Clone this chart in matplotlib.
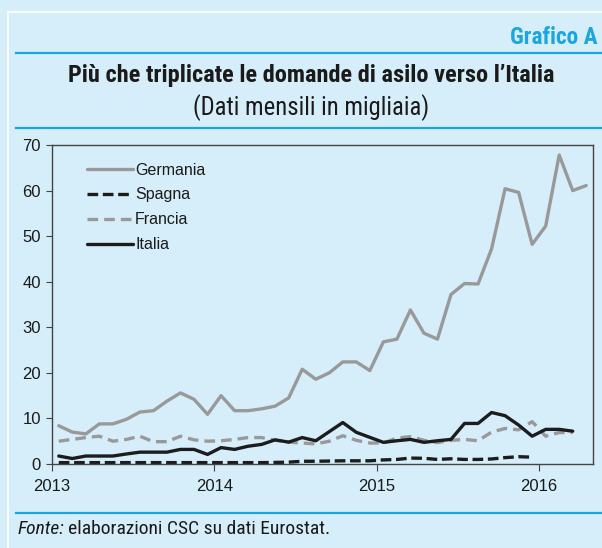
import numpy as np
import matplotlib
matplotlib.use("Agg")
import matplotlib.pyplot as plt
from matplotlib import font_manager
from matplotlib.lines import Line2D

# monthly data, Jan 2013 onwards (thousands)
germania = [8.4, 7.0, 6.6, 8.8, 8.8, 9.8, 11.4, 11.7, 13.8, 15.6,
            14.2, 10.9, 15.0, 11.7, 11.7, 12.1, 12.7, 14.5, 20.8, 18.6,
            20.0, 22.4, 22.4, 20.5, 26.8, 27.4, 33.8, 28.7, 27.4, 37.2,
            39.6, 39.5, 47.2, 60.4, 59.6, 48.2, 52.2, 67.8, 60.0, 61.1]
spagna = [0.3, 0.3, 0.3, 0.3, 0.3, 0.3, 0.3, 0.3, 0.3, 0.3,
          0.3, 0.3, 0.3, 0.3, 0.3, 0.3, 0.35, 0.4, 0.6, 0.6,
          0.65, 0.7, 0.7, 0.7, 0.9, 1.0, 1.3, 1.25, 1.0, 1.15,
          1.0, 1.0, 1.1, 1.4, 1.6, 1.5]
francia = [5.0, 5.4, 5.8, 6.1, 5.0, 5.4, 6.1, 4.9, 4.9, 6.1,
           5.3, 5.0, 5.1, 5.4, 5.8, 5.8, 5.2, 4.8, 4.6, 4.4,
           5.0, 6.2, 5.2, 4.6, 4.6, 5.7, 6.0, 5.2, 4.7, 5.2,
           5.4, 5.1, 7.0, 7.8, 7.5, 9.3, 6.1, 6.9, 6.9]
italia = [1.75, 1.2, 1.75, 1.75, 1.75, 2.2, 2.6, 2.6, 2.6, 3.2,
          3.2, 2.1, 3.6, 3.2, 3.9, 4.3, 5.3, 4.8, 5.8, 5.1,
          7.1, 9.1, 6.95, 5.85, 4.75, 5.1, 5.4, 4.75, 5.1, 5.4,
          8.9, 8.9, 11.3, 10.6, 8.55, 6.1, 7.6, 7.6, 7.2]
year_ticks = [2013, 2014, 2015, 2016]


def months(n):
    # plot each month in the middle of its slot
    return 2013 + (np.arange(n) + 0.5) / 12.0


def pick_font(names):
    have = {f.name for f in font_manager.fontManager.ttflist}
    for n in names:
        if n in have:
            return n
    return "DejaVu Sans"


narrow = pick_font(["Liberation Sans Narrow", "DejaVu Sans Condensed", "Roboto Condensed", "Liberation Sans"])
regular = pick_font(["Liberation Sans", "Noto Sans", "DejaVu Sans"])
plt.rcParams["font.family"] = [regular, "DejaVu Sans"]

bg = "#d6eefa"
cyan = "#1ba6e0"
gray = "#999999"
dark = "#1c1c1c"

fig = plt.figure(figsize=(6.02, 5.48), dpi=100, facecolor=bg)

# frame and rules
W, H = 602.0, 548.0
fig.add_artist(Line2D([8 / W, 8 / W], [0, 1 - 12 / H], color="white", lw=1.2))
fig.add_artist(Line2D([8 / W, 1], [1 - 12 / H, 1 - 12 / H], color="white", lw=1.2))
for yy in (53, 128, 513):
    fig.add_artist(Line2D([16 / W, 1], [1 - yy / H, 1 - yy / H], color=cyan, lw=1.6))

fig.text(598 / W, 1 - 38 / H, "Grafico A", ha="right", va="center", color=cyan,
         fontsize=16.8, fontweight="bold", family=narrow)
fig.text(311 / W, 1 - 76 / H, "Più che triplicate le domande di asilo verso l’Italia",
         ha="center", va="center", color="#1a1a1a", fontsize=17.6, fontweight="bold", family=narrow)
fig.text(311 / W, 1 - 108 / H, "(Dati mensili in migliaia)", ha="center", va="center",
         color="#1a1a1a", fontsize=17.7, family=narrow)
t1 = fig.text(18 / W, 1 - 529 / H, "Fonte:", ha="left", va="center", color="#1a1a1a",
              fontsize=14, style="italic", family=narrow)
fig.canvas.draw()
bb = t1.get_window_extent()
fig.text(bb.x1 / W + 3 / W, 1 - 529 / H, "elaborazioni CSC su dati Eurostat.", ha="left", va="center",
         color="#1a1a1a", fontsize=14, family=narrow)

ax = fig.add_axes([52 / W, 1 - 464 / H, (593 - 52) / W, (464 - 145) / H])
ax.set_facecolor(bg)
lw = 2.4
ax.plot(months(len(germania)), germania, color=gray, lw=lw, label="Germania", solid_capstyle="round")
ax.plot(months(len(spagna)), spagna, color=dark, lw=lw, ls=(0, (3.2, 1.4)), label="Spagna")
ax.plot(months(len(francia)), francia, color=gray, lw=lw, ls=(0, (3.2, 1.8)), label="Francia")
ax.plot(months(len(italia)), italia, color=dark, lw=lw, label="Italia", solid_capstyle="round")

ax.set_xlim(2013, 2013 + 40 / 12.0)
ax.set_ylim(0, 70)
ax.set_yticks(range(0, 71, 10))
ax.set_xticks(year_ticks)
ax.set_xticklabels([str(y) for y in year_ticks])
for s in ax.spines.values():
    s.set_color("#444444")
    s.set_linewidth(1.0)
ax.tick_params(axis="y", direction="out", length=4, color="#444444", labelsize=12, labelcolor="#1a1a1a", pad=4)
ax.tick_params(axis="x", direction="out", length=5, color="#444444", labelsize=12, labelcolor="#1a1a1a", pad=6)

leg = ax.legend(loc="upper left", bbox_to_anchor=(0.038, 0.99), frameon=False, fontsize=11.5,
                handlelength=2.9, handletextpad=0.12, labelspacing=0.62)
for t in leg.get_texts():
    t.set_color("#1a1a1a")

fig.savefig("out.png", dpi=100, facecolor=bg)
